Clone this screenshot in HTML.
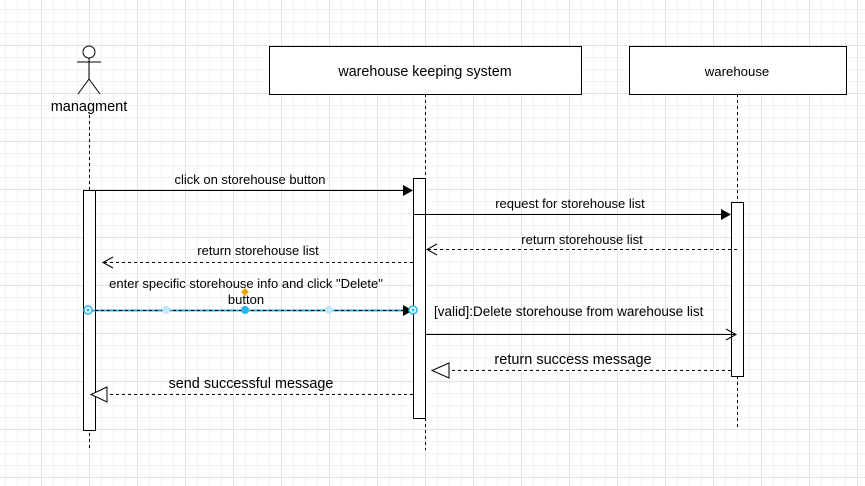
<!DOCTYPE html>
<html><head><style>
html,body{margin:0;padding:0;background:#fff}
svg{display:block}
text{font-family:"Liberation Sans",Arial,sans-serif;font-size:13px;fill:#000}
</style></head><body>
<svg width="865" height="486" viewBox="0 0 865 486" xmlns="http://www.w3.org/2000/svg">
<defs>
<pattern id="minor" width="12" height="12" patternUnits="userSpaceOnUse" x="5" y="9">
<path d="M0 0.5H12M0.5 0V12" stroke="#f3f3f3" stroke-width="1" fill="none"/>
</pattern>
<pattern id="major" width="48" height="48" patternUnits="userSpaceOnUse" x="41" y="45">
<path d="M0 0.5H48M0.5 0V48" stroke="#e2e2e2" stroke-width="1" fill="none"/>
</pattern>
</defs>
<rect width="865" height="486" fill="url(#minor)"/>
<rect width="865" height="486" fill="url(#major)"/>

<g stroke="#000" stroke-width="1" fill="none">
<circle cx="89" cy="52" r="6" fill="#fff"/>
<line x1="89" y1="58" x2="89" y2="79"/>
<line x1="77" y1="62" x2="101" y2="62"/>
<line x1="89" y1="79" x2="78" y2="94"/>
<line x1="89" y1="79" x2="100" y2="94"/>
</g>
<text x="89" y="111" text-anchor="middle" style="font-size:14.5px">managment</text>

<g stroke="#000" stroke-dasharray="3,3">
<line x1="89.5" y1="115" x2="89.5" y2="450"/>
<line x1="425.5" y1="94" x2="425.5" y2="450"/>
<line x1="737.5" y1="94" x2="737.5" y2="430"/>
</g>

<rect x="269.5" y="46.5" width="312" height="48" fill="#fff" stroke="#000"/>
<text x="425" y="76" text-anchor="middle" style="font-size:14.3px">warehouse keeping system</text>
<rect x="629.5" y="46.5" width="217" height="48" fill="#fff" stroke="#000"/>
<text x="737" y="76" text-anchor="middle" style="font-size:13.2px">warehouse</text>

<rect x="83.5" y="190.5" width="12" height="240" fill="#fff" stroke="#000"/>
<rect x="413.5" y="178.5" width="12" height="240" fill="#fff" stroke="#000"/>
<rect x="731.5" y="202.5" width="12" height="174" fill="#fff" stroke="#000"/>

<line x1="95" y1="190.5" x2="403" y2="190.5" stroke="#000"/>
<path d="M403 185L413 190.5L403 196Z" fill="#000"/>
<text x="250" y="184" text-anchor="middle">click on storehouse button</text>

<line x1="413" y1="214.5" x2="721" y2="214.5" stroke="#000"/>
<path d="M721 209L731 214.5L721 220Z" fill="#000"/>
<text x="570" y="208" text-anchor="middle">request for storehouse list</text>

<line x1="737" y1="249.5" x2="427" y2="249.5" stroke="#000" stroke-dasharray="3,3"/>
<path d="M437 244L427 249.5L437 255" fill="none" stroke="#000"/>
<text x="582" y="244" text-anchor="middle">return storehouse list</text>

<line x1="413" y1="262.5" x2="103" y2="262.5" stroke="#000" stroke-dasharray="3,3"/>
<path d="M113 257L103 262.5L113 268" fill="none" stroke="#000"/>
<text x="258" y="255" text-anchor="middle">return storehouse list</text>

<text x="246" y="288" text-anchor="middle">enter specific storehouse info and click "Delete"</text>
<text x="246" y="304" text-anchor="middle">button</text>
<line x1="89" y1="310.5" x2="404" y2="310.5" stroke="#29b6f2" stroke-width="2"/>
<line x1="89" y1="310.5" x2="404" y2="310.5" stroke="#000" stroke-dasharray="3,3"/>
<path d="M403 305L413 310.5L403 316Z" fill="#000"/>
<circle cx="166" cy="310" r="4" fill="#bfe6fb"/>
<circle cx="329" cy="310" r="4" fill="#bfe6fb"/>
<circle cx="245" cy="310" r="4" fill="#29b6f2"/>
<circle cx="88" cy="310" r="4" fill="#fff" stroke="#29b6f2" stroke-width="1.5"/>
<circle cx="88" cy="310" r="1.5" fill="#29b6f2"/>
<circle cx="413" cy="310" r="4" fill="#fff" stroke="#29b6f2" stroke-width="1.5"/>
<circle cx="413" cy="310" r="1.5" fill="#29b6f2"/>
<path d="M245 288L249 292L245 296L241 292Z" fill="#f0a30a"/>

<text x="434" y="316" style="font-size:13.5px">[valid]:Delete storehouse from warehouse list</text>
<line x1="425" y1="334.5" x2="736" y2="334.5" stroke="#000"/>
<path d="M726 329L736 334.5L726 340" fill="none" stroke="#000"/>

<line x1="731" y1="370.5" x2="449" y2="370.5" stroke="#000" stroke-dasharray="3,3"/>
<path d="M449 363L432 370.5L449 378Z" fill="#fff" stroke="#000"/>
<text x="573" y="364" text-anchor="middle" style="font-size:14.5px">return success message</text>

<line x1="413" y1="394.5" x2="107" y2="394.5" stroke="#000" stroke-dasharray="3,3"/>
<path d="M107 387L91 394.5L107 402Z" fill="#fff" stroke="#000"/>
<text x="251" y="388" text-anchor="middle" style="font-size:14.4px">send successful message</text>
</svg>
</body></html>
